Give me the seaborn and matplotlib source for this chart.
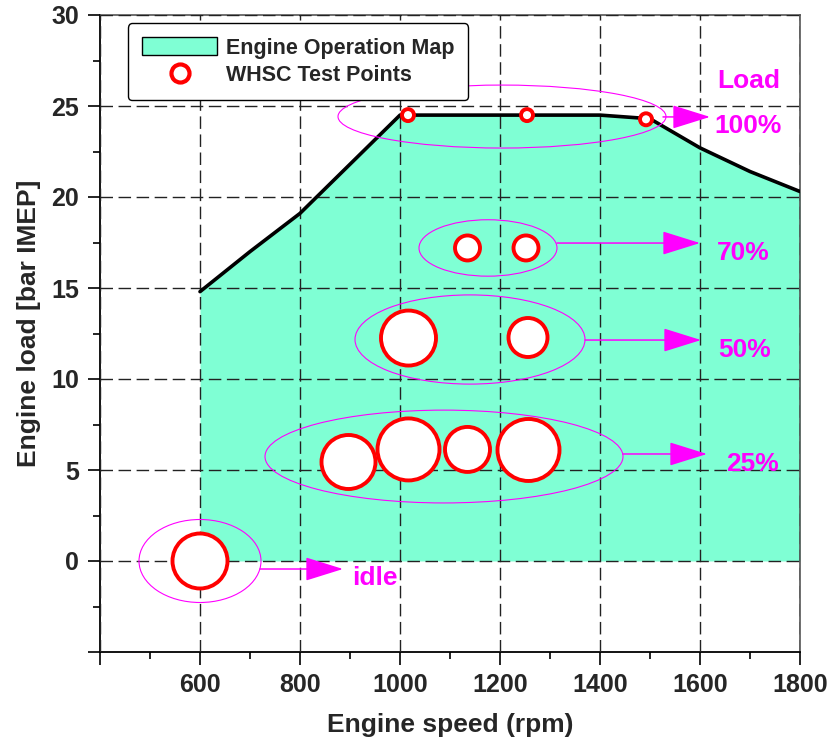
import matplotlib
matplotlib.use("Agg")
import matplotlib.pyplot as plt
import seaborn as sns
import pandas as pd
from matplotlib.patches import Ellipse, Patch
from matplotlib.lines import Line2D
from matplotlib.ticker import MultipleLocator

# ---------------- data ----------------
speed_curve = [600, 700, 800, 900, 1000, 1100, 1200, 1300, 1400, 1500, 1600, 1700, 1800]
load_curve = [14.8, 17.0, 19.1, 21.8, 24.5, 24.5, 24.5, 24.5, 24.5, 24.3, 22.7, 21.4, 20.3]

test_speed = [600, 897, 1017, 1135, 1257, 1017, 1256, 1135, 1252, 1016, 1254, 1492]
test_load = [0.0, 5.44, 6.13, 6.13, 6.1, 12.25, 12.28, 17.2, 17.2, 24.5, 24.5, 24.27]
test_weight = [55, 54, 62, 45, 62, 55, 39, 25, 25, 12, 12, 12]  # relative circle size

group_labels = ["idle", "25%", "50%", "70%", "100%"]
group_speed = [600, 1088, 1140, 1176, 1204]
group_load = [0.0, 5.74, 12.17, 17.2, 24.42]
group_span_speed = [244, 716, 460, 276, 656]
group_span_load = [4.56, 5.1, 4.9, 3.1, 3.46]
arrow_start = [720, 1446, 1370, 1314, 1526]
arrow_end = [886, 1614, 1602, 1600, 1620]
arrow_load = [-0.44, 5.88, 12.14, 17.47, 24.4]
label_speed = [950, 1704, 1690, 1686, 1697]
label_load = [-1.32, 4.95, 11.21, 16.54, 23.52]

x_ticks = [400, 600, 800, 1000, 1200, 1400, 1600, 1800]
x_ticklabels = ["", "600", "800", "1000", "1200", "1400", "1600", "1800"]
y_ticks = [-5, 0, 5, 10, 15, 20, 25, 30]
y_ticklabels = ["", "0", "5", "10", "15", "20", "25", "30"]

# ---------------- style ----------------
sns.set_style("white")
plt.rcParams["font.family"] = ["Liberation Sans", "DejaVu Sans"]
plt.rcParams["font.weight"] = "bold"

fig = plt.figure(figsize=(8.3, 7.38), dpi=100)
ax = fig.add_axes([100 / 830, 1 - 652 / 738, 700 / 830, 637 / 738])

MAG = "#ff00ff"
FILL = "#7fffd4"

curve_df = pd.DataFrame({"speed": speed_curve, "load": load_curve})
test_df = pd.DataFrame({"speed": test_speed, "load": test_load, "w": test_weight})

ax.fill_between(curve_df["speed"], 0, curve_df["load"], color=FILL, lw=0, zorder=1)
sns.lineplot(data=curve_df, x="speed", y="load", color="black", lw=2.6, ax=ax,
             zorder=3, sort=False)

for gx, gy, gw, gh in zip(group_speed, group_load, group_span_speed, group_span_load):
    ax.add_patch(Ellipse((gx, gy), gw, gh, fill=False, ec=MAG, lw=0.8, zorder=3.5))

sizes = [(w * 0.72) ** 2 for w in test_weight]
sns.scatterplot(data=test_df, x="speed", y="load", s=sizes, color="white",
                edgecolor="red", linewidth=2.8, ax=ax, zorder=4, legend=False)

for xs, xe, yy in zip(arrow_start, arrow_end, arrow_load):
    ax.annotate("", xy=(xe, yy), xytext=(xs, yy),
                arrowprops=dict(arrowstyle="-|>,head_length=2.4,head_width=0.75",
                                mutation_scale=10, color=MAG, lw=1.1,
                                shrinkA=0, shrinkB=0), zorder=5)

for lab, lx, ly in zip(group_labels, label_speed, label_load):
    ax.text(lx, ly, lab, color=MAG, fontsize=19, fontweight="bold",
            ha="center", va="baseline", zorder=6)
ax.text(1698, 25.99, "Load", color=MAG, fontsize=19, fontweight="bold",
        ha="center", va="baseline", zorder=6)

# ---------------- axes ----------------
ax.set_xlim(400, 1800)
ax.set_ylim(-5, 30)
ax.set_xticks(x_ticks)
ax.set_xticklabels(x_ticklabels)
ax.set_yticks(y_ticks)
ax.set_yticklabels(y_ticklabels)
ax.xaxis.set_minor_locator(MultipleLocator(100))
ax.yaxis.set_minor_locator(MultipleLocator(2.5))
ax.tick_params(axis="both", which="both", bottom=True, left=True, top=False, right=False)
ax.tick_params(axis="both", which="major", direction="out", length=9, width=1.2,
               labelsize=18, pad=6, color="black")
ax.tick_params(axis="both", which="minor", direction="out", length=5, width=1.2,
               color="black")
for lab in ax.get_xticklabels() + ax.get_yticklabels():
    lab.set_fontweight("bold")

ax.set_axisbelow(False)
ax.grid(True, which="major", color="#222222", lw=1.0, linestyle=(0, (9, 4)))
ax.grid(False, which="minor")

for side in ["left", "bottom"]:
    ax.spines[side].set_color("black")
    ax.spines[side].set_linewidth(1.3)
for side in ["top", "right"]:
    ax.spines[side].set_color("#555555")
    ax.spines[side].set_linewidth(1.2)

ax.set_xlabel("Engine speed (rpm)", fontsize=19, fontweight="bold")
ax.set_ylabel("Engine load [bar IMEP]", fontsize=19, fontweight="bold")
ax.xaxis.set_label_coords(0.5, -0.095)
ax.yaxis.set_label_coords(-0.084, 0.516)

handles = [
    Patch(facecolor=FILL, edgecolor="black", lw=1.0, label="Engine Operation Map"),
    Line2D([], [], marker="o", ls="", markersize=13, markerfacecolor="white",
           markeredgecolor="red", markeredgewidth=3, label="WHSC Test Points"),
]
leg = ax.legend(handles=handles, loc="upper left", bbox_to_anchor=(0.04, 0.987),
                borderaxespad=0,
                prop={"size": 15.5, "weight": "bold"}, frameon=True, fancybox=True,
                edgecolor="black", framealpha=1, handlelength=3.5, handleheight=0.9,
                borderpad=0.65, labelspacing=0.3, handletextpad=0.4)
leg.get_frame().set_linewidth(1.0)
leg.set_zorder(7)

fig.savefig("out.png", dpi=100)
